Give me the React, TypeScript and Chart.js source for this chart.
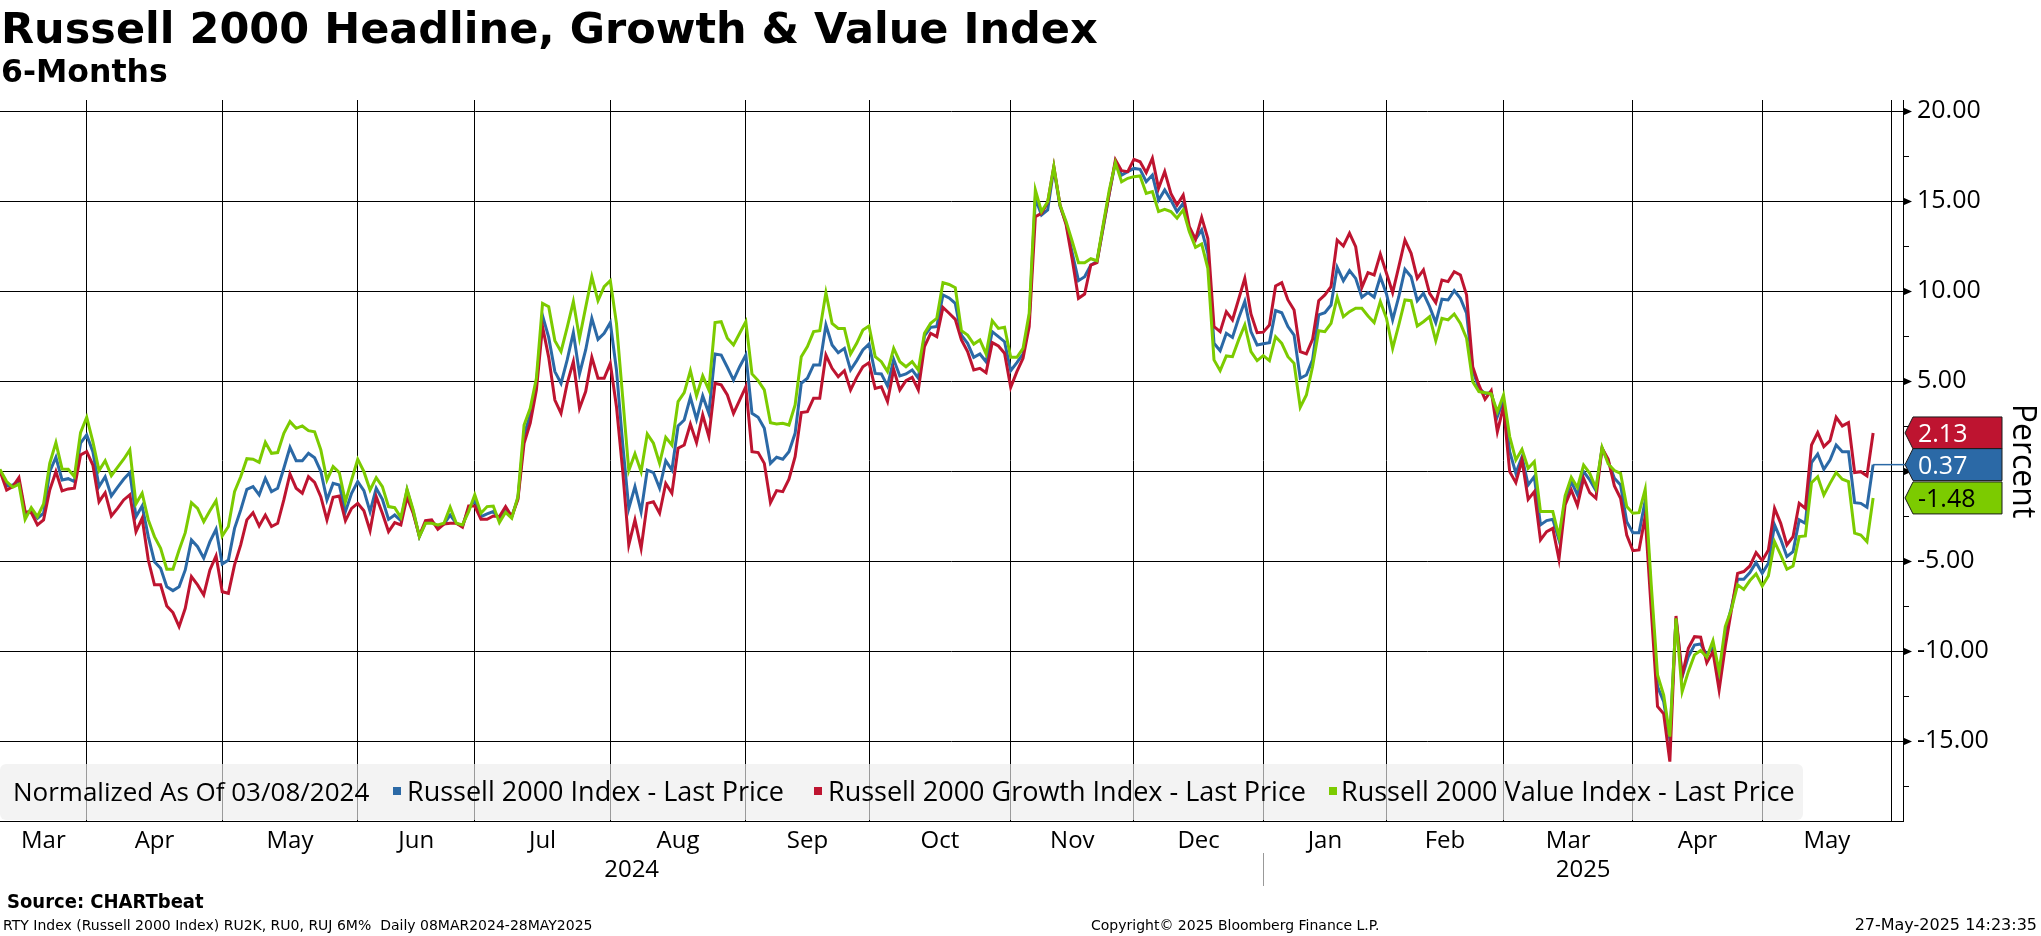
import React, { useEffect, useRef } from 'react';
import { Chart, registerables } from 'chart.js';

Chart.register(...registerables);

// ---------- data ----------
const SERIES_NAMES = [
  'Russell 2000 Index - Last Price',
  'Russell 2000 Growth Index - Last Price',
  'Russell 2000 Value Index - Last Price',
];

// trading-day index of the first trading day of each month (Mar 8 2024 = 0)
const MONTH_STARTS = [15, 37, 59, 78, 100, 122, 142, 165, 185, 206, 226, 245, 266, 287, 308];
const MONTH_LABELS = ['Mar', 'Apr', 'May', 'Jun', 'Jul', 'Aug', 'Sep', 'Oct', 'Nov', 'Dec', 'Jan', 'Feb', 'Mar', 'Apr', 'May'];
const YEAR_LABELS = ['2024', '2025'];
const YEAR_BREAK = 206;
const Y_TICKS = [-17.5, -15, -12.5, -10, -7.5, -5, -2.5, 0, 2.5, 5, 7.5, 10, 12.5, 15, 17.5, 20];

// Russell 2000 Index (blue), % change since 03/08/2024, one value per trading day
const RUSSELL_2000 = [
  0, 0.0, -0.81, -0.76, -0.54, -2.37, -2.15, -2.61, -2.33, -0.02,
  0.78, -0.48, -0.41, -0.57, 1.56, 2.02, 1.09, -0.85, -0.3, -1.37,
  -0.89, -0.44, -0.07, -2.52, -1.93, -3.63, -5.02, -5.39, -6.41, -6.63,
  -6.41, -5.48, -3.81, -4.19, -4.83, -3.91, -3.22, -5.15, -4.93, -3.17,
  -2.15, -1.0, -0.85, -1.31, -0.39, -1.13, -0.94, 0.17, 1.33, 0.59,
  0.59, 1.0, 0.75, 0.0, -1.59, -0.67, -0.76, -2.24, -1.22, -0.57,
  -1.07, -2.24, -0.94, -1.56, -2.67, -2.43, -2.74, -1.04, -2.24, -3.63,
  -2.85, -2.8, -3.07, -2.93, -2.43, -2.89, -3.04, -2.06, -1.63, -2.52,
  -2.37, -2.24, -2.61, -2.15, -2.52, -1.5, 2.02, 3.13, 4.89, 8.65,
  7.44, 5.54, 4.89, 6.19, 7.7, 5.41, 6.74, 8.5, 7.33, 7.67,
  8.26, 5.63, 1.56, -2.06, -0.85, -2.24, 0.07, -0.07, -0.94, 0.59,
  0.07, 2.52, 2.85, 4.11, 2.89, 4.19, 3.22, 6.52, 6.46, 5.78,
  5.07, 5.81, 6.46, 3.22, 3.0, 2.39, 0.44, 0.78, 0.67, 1.09,
  2.11, 4.89, 5.17, 5.91, 5.91, 8.13, 7.02, 6.59, 6.83, 5.63,
  6.15, 6.74, 7.07, 5.44, 5.41, 4.74, 6.22, 5.3, 5.41, 5.63,
  5.17, 7.52, 8.0, 8.04, 9.8, 9.63, 9.33, 7.57, 7.11, 6.33,
  6.52, 6.09, 7.76, 7.48, 7.2, 5.59, 6.04, 6.52, 8.41, 15.17,
  14.24, 14.52, 16.83, 14.74, 13.78, 12.11, 10.59, 10.81, 11.46, 11.65,
  13.5, 15.44, 17.2, 16.46, 16.65, 16.83, 16.78, 16.09, 16.46, 15.07,
  15.63, 15.07, 14.43, 14.89, 13.41, 12.89, 13.41, 12.11, 7.11, 6.7,
  7.67, 7.44, 8.5, 9.43, 7.76, 7.02, 7.09, 7.15, 8.93, 8.81,
  8.04, 7.57, 5.17, 5.35, 6.19, 8.69, 8.81, 9.24, 11.33, 10.59,
  11.15, 10.72, 9.67, 9.93, 9.67, 10.81, 9.85, 8.41, 9.7, 11.22,
  10.81, 9.48, 9.89, 9.15, 8.26, 9.56, 9.52, 10.04, 9.61, 8.78,
  5.63, 4.61, 4.33, 4.37, 3.04, 3.96, 1.09, -0.11, 0.81, -0.76,
  -0.3, -2.98, -2.74, -2.67, -3.81, -1.59, -0.57, -1.3, -0.02, -0.48,
  -1.07, 1.28, 0.54, -0.39, -0.76, -2.8, -3.41, -3.41, -1.63, -7.0,
  -11.96, -12.8, -14.9, -8.17, -11.41, -10.3, -9.65, -9.59, -10.2, -9.74,
  -11.59, -8.91, -7.56, -6.0, -6.0, -5.63, -5.07, -5.67, -5.11, -2.98,
  -3.78, -4.74, -4.46, -2.7, -2.89, 0.48, 0.96, 0.11, 0.63, 1.46,
  1.09, 1.09, -1.74, -1.78, -2.0, 0.37,
];

// Russell 2000 Growth Index (red)
const RUSSELL_GROWTH = [
  0, -0.05, -1.04, -0.85, -0.35, -2.24, -2.3, -2.98, -2.7, -1.04,
  -0.02, -1.09, -0.98, -0.94, 0.91, 1.09, 0.35, -1.69, -1.19, -2.48,
  -2.06, -1.59, -1.31, -3.35, -2.61, -4.93, -6.31, -6.31, -7.48, -7.85,
  -8.63, -7.61, -5.85, -6.31, -6.87, -5.48, -4.7, -6.69, -6.78, -5.2,
  -4.09, -2.7, -2.3, -3.04, -2.43, -3.07, -2.89, -1.59, -0.15, -0.94,
  -1.22, -0.3, -0.62, -1.41, -2.7, -1.44, -1.37, -2.74, -2.06, -1.78,
  -2.19, -3.3, -1.41, -2.33, -3.35, -2.85, -2.98, -1.44, -2.33, -3.59,
  -2.74, -2.7, -3.22, -2.93, -2.89, -2.89, -3.11, -1.93, -1.93, -2.67,
  -2.67, -2.48, -2.52, -1.96, -2.52, -1.56, 1.56, 2.67, 4.52, 8.04,
  6.33, 3.96, 3.22, 4.89, 6.09, 3.5, 4.43, 6.33, 5.17, 5.17,
  6.0, 3.59, 0.07, -4.09, -2.7, -4.28, -1.78, -1.69, -2.33, -0.67,
  -1.22, 1.28, 1.46, 2.63, 1.59, 3.13, 1.93, 4.89, 4.8, 4.24,
  3.22, 3.96, 4.7, 1.09, 1.04, 0.44, -1.74, -1.07, -1.13, -0.44,
  0.81, 3.26, 3.31, 4.06, 4.06, 6.46, 5.72, 5.26, 5.59, 4.52,
  5.22, 5.81, 6.04, 4.61, 4.7, 3.87, 5.67, 4.52, 5.04, 5.22,
  4.52, 6.93, 7.67, 7.48, 9.11, 8.78, 8.44, 7.3, 6.65, 5.63,
  5.72, 5.48, 7.15, 6.96, 6.56, 4.67, 5.54, 6.28, 8.04, 14.15,
  14.33, 14.93, 16.93, 14.8, 13.69, 11.74, 9.61, 9.85, 11.46, 11.59,
  13.59, 15.44, 17.3, 16.7, 16.65, 17.33, 17.2, 16.59, 17.39, 15.72,
  16.65, 15.44, 14.8, 15.35, 13.59, 12.89, 14.11, 12.94, 8.04, 7.76,
  8.87, 8.41, 9.56, 10.72, 8.74, 7.7, 7.73, 8.13, 10.3, 10.48,
  9.52, 8.96, 6.65, 6.52, 7.33, 9.48, 9.8, 10.26, 12.85, 12.52,
  13.22, 12.48, 10.22, 11.04, 10.91, 12.07, 11.0, 9.93, 11.37, 12.85,
  12.11, 10.72, 11.19, 9.89, 9.37, 10.63, 10.54, 11.09, 10.91, 9.8,
  5.81, 4.8, 4.0, 4.48, 2.2, 3.59, -0.02, -0.63, 0.63, -1.56,
  -1.13, -3.81, -3.35, -3.17, -4.89, -1.87, -1.04, -1.9, -0.39, -1.19,
  -1.5, 1.28, 0.67, -0.81, -1.5, -3.54, -4.41, -4.37, -2.5, -7.8,
  -13.07, -13.48, -16.13, -8.04, -11.37, -9.83, -9.19, -9.22, -10.63, -10.02,
  -12.15, -9.74, -7.7, -5.67, -5.57, -5.26, -4.52, -4.96, -4.37, -2.06,
  -2.89, -4.09, -3.63, -1.78, -2.06, 1.46, 2.15, 1.37, 1.7, 3.0,
  2.52, 2.7, -0.07, -0.02, -0.26, 2.13,
];

// Russell 2000 Value Index (green)
const RUSSELL_VALUE = [
  0, 0.05, -0.57, -0.89, -0.72, -2.67, -2.02, -2.52, -1.81, 0.44,
  1.59, 0.13, 0.11, -0.3, 2.15, 3.0, 1.65, 0.04, 0.59, -0.24,
  0.22, 0.67, 1.19, -1.81, -1.22, -2.7, -3.63, -4.28, -5.44, -5.44,
  -4.37, -3.41, -1.74, -2.06, -2.8, -2.19, -1.63, -3.59, -3.07, -1.13,
  -0.3, 0.7, 0.67, 0.5, 1.61, 1.0, 1.04, 2.11, 2.76, 2.39,
  2.52, 2.26, 2.2, 1.2, -0.48, 0.26, -0.07, -1.69, -0.48, 0.67,
  -0.02, -1.04, -0.35, -0.85, -1.96, -2.02, -2.57, -1.0, -2.15, -3.63,
  -2.89, -2.89, -2.98, -2.89, -2.0, -2.89, -2.98, -2.24, -1.31, -2.33,
  -1.96, -1.93, -2.85, -2.28, -2.61, -1.41, 2.57, 3.5, 5.17, 9.33,
  9.15, 7.26, 6.65, 8.0, 9.43, 7.39, 9.11, 10.81, 9.48, 10.26,
  10.59, 8.22, 4.15, 0.04, 0.98, -0.02, 2.07, 1.56, 0.44, 1.89,
  1.46, 3.87, 4.37, 5.59, 4.19, 5.3, 4.52, 8.26, 8.31, 7.39,
  7.02, 7.67, 8.31, 5.41, 5.04, 4.52, 2.7, 2.63, 2.67, 2.57,
  3.69, 6.37, 6.93, 7.76, 7.81, 9.93, 8.22, 7.94, 7.94, 6.52,
  7.11, 7.85, 8.07, 6.37, 6.09, 5.54, 6.83, 6.09, 5.81, 6.09,
  5.63, 7.67, 8.22, 8.5, 10.48, 10.38, 10.2, 7.81, 7.57, 7.07,
  7.3, 6.52, 8.37, 7.94, 8.0, 6.33, 6.33, 6.83, 8.78, 15.63,
  14.43, 14.98, 16.93, 14.8, 13.87, 12.76, 11.59, 11.59, 11.81, 11.7,
  13.69, 15.63, 17.15, 16.09, 16.28, 16.37, 16.41, 15.44, 15.54, 14.43,
  14.56, 14.43, 14.06, 14.52, 13.31, 12.44, 12.63, 11.28, 6.19, 5.59,
  6.41, 6.37, 7.3, 8.13, 6.65, 6.15, 6.43, 6.15, 7.48, 7.11,
  6.37, 6.0, 3.56, 4.24, 5.81, 7.81, 7.76, 8.22, 9.67, 8.59,
  8.87, 9.06, 9.06, 8.63, 8.26, 9.43, 8.5, 6.83, 8.13, 9.52,
  9.48, 8.07, 8.31, 8.59, 7.26, 8.5, 8.41, 8.74, 8.22, 7.39,
  4.98, 4.43, 4.37, 4.3, 3.31, 4.24, 1.93, 0.63, 1.22, 0.17,
  0.54, -2.24, -2.24, -2.24, -3.63, -1.37, -0.33, -0.9, 0.35, -0.11,
  -0.94, 1.33, 0.41, 0.04, -0.11, -1.96, -2.33, -2.3, -1.0, -6.4,
  -11.31, -12.43, -14.74, -8.17, -12.24, -11.13, -10.2, -9.96, -10.33, -9.41,
  -11.13, -8.63, -7.67, -6.31, -6.56, -6.07, -5.7, -6.37, -5.81, -3.91,
  -4.65, -5.44, -5.26, -3.63, -3.59, -0.63, -0.3, -1.31, -0.67, -0.07,
  -0.44, -0.57, -3.44, -3.54, -3.91, -1.48,
];

// ---------- style ----------
const BLUE = '#2b69a6';
const RED = '#be1430';
const GREEN = '#7ccb00';
const UI_FONT = '"Open Sans", "Noto Sans", sans-serif';
const HEAD_FONT = '"DejaVu Sans", sans-serif';
const COND_FONT = '"DejaVu Sans Condensed", "DejaVu Sans", sans-serif';

const W = 2041;
const H = 936;
const X_MIN = 0.925;
const X_MAX = 309.85;
const Y_MIN = -19.43;
const Y_MAX = 20.63;

const isMajor = (v: number) => Math.abs(v / 5 - Math.round(v / 5)) < 1e-6;
const toPoints = (arr: number[]) => arr.map((v, i) => ({ x: i, y: v }));

const annotations = {
  id: 'bbgAnnotations',
  afterDatasetsDraw(chart: any) {
    const { ctx, chartArea, scales } = chart;
    const xs = scales.x;
    const ys = scales.y;
    const last = RUSSELL_2000.length - 1;
    const by = ys.getPixelForValue(RUSSELL_2000[last]);
    ctx.save();
    ctx.strokeStyle = BLUE;
    ctx.lineWidth = 1.5;
    ctx.beginPath();
    ctx.moveTo(xs.getPixelForValue(last), by);
    ctx.lineTo(chartArea.right + 2, by);
    ctx.stroke();
    ctx.restore();
  },
  afterDraw(chart: any) {
    const { ctx, chartArea, scales } = chart;
    const xs = scales.x;
    const ys = scales.y;
    const right = chartArea.right;
    ctx.save();

    // right-axis tick marks
    ctx.fillStyle = '#000';
    ctx.strokeStyle = '#000';
    ctx.lineWidth = 1;
    Y_TICKS.forEach((v) => {
      const py = Math.round(ys.getPixelForValue(v)) + 0.5;
      ctx.beginPath();
      if (isMajor(v)) {
        ctx.moveTo(right, py - 4);
        ctx.lineTo(right + 9, py);
        ctx.lineTo(right, py + 4);
        ctx.closePath();
        ctx.fill();
      } else {
        ctx.moveTo(right, py);
        ctx.lineTo(right + 6, py);
        ctx.stroke();
      }
    });

    // month labels
    ctx.font = `24px ${UI_FONT}`;
    ctx.textAlign = 'center';
    ctx.textBaseline = 'alphabetic';
    ctx.fillStyle = '#000';
    MONTH_LABELS.forEach((m, i) => {
      const a = i === 0 ? xs.min : MONTH_STARTS[i - 1];
      const b = MONTH_STARTS[i];
      ctx.fillText(m, (xs.getPixelForValue(a) + xs.getPixelForValue(b)) / 2, 848);
    });

    // year labels + separator
    const yb = xs.getPixelForValue(YEAR_BREAK);
    ctx.fillText(YEAR_LABELS[0], (xs.getPixelForValue(xs.min) + yb) / 2, 877);
    ctx.fillText(YEAR_LABELS[1], (yb + right) / 2, 877);
    ctx.strokeStyle = '#999';
    ctx.beginPath();
    ctx.moveTo(Math.round(yb) + 0.5, 853);
    ctx.lineTo(Math.round(yb) + 0.5, 886);
    ctx.stroke();

    // last-value labels
    const lastVals = [
      { v: RUSSELL_GROWTH[RUSSELL_GROWTH.length - 1], fill: RED, text: '#fff' },
      { v: RUSSELL_2000[RUSSELL_2000.length - 1], fill: BLUE, text: '#fff' },
      { v: RUSSELL_VALUE[RUSSELL_VALUE.length - 1], fill: GREEN, text: '#000' },
    ];
    lastVals.forEach((s) => {
      const cy = ys.getPixelForValue(s.v);
      const top = cy - 16;
      const bot = cy + 16;
      const l = right + 10;
      const r = 2002;
      ctx.beginPath();
      ctx.moveTo(right + 2, cy);
      ctx.lineTo(l, top);
      ctx.lineTo(r, top);
      ctx.lineTo(r, bot);
      ctx.lineTo(l, bot);
      ctx.closePath();
      ctx.fillStyle = s.fill;
      ctx.fill();
      ctx.strokeStyle = '#1a1a1a';
      ctx.lineWidth = 1;
      ctx.stroke();
      ctx.fillStyle = s.text;
      ctx.font = `25px ${UI_FONT}`;
      ctx.textAlign = 'left';
      ctx.textBaseline = 'alphabetic';
      ctx.fillText(s.v.toFixed(2), right + 15, cy + 9.5);
    });

    // axis title
    ctx.translate(2022, 461);
    ctx.rotate(Math.PI / 2);
    ctx.font = `32px ${UI_FONT}`;
    ctx.fillStyle = '#000';
    ctx.textAlign = 'center';
    ctx.textBaseline = 'middle';
    ctx.fillText('Percent', 0, 0);

    ctx.restore();
  },
};

function Text(props: { children: React.ReactNode; style: React.CSSProperties }) {
  return (
    <div style={{ position: 'absolute', whiteSpace: 'nowrap', color: '#000', ...props.style }}>
      {props.children}
    </div>
  );
}

export default function App() {
  const canvasRef = useRef<HTMLCanvasElement | null>(null);

  useEffect(() => {
    const canvas = canvasRef.current;
    if (!canvas) return;
    const chart = new Chart(canvas, {
      type: 'line',
      data: {
        datasets: [
          { label: SERIES_NAMES[0], data: toPoints(RUSSELL_2000), borderColor: BLUE, backgroundColor: BLUE, borderWidth: 3, pointRadius: 0, tension: 0, order: 3 },
          { label: SERIES_NAMES[1], data: toPoints(RUSSELL_GROWTH), borderColor: RED, backgroundColor: RED, borderWidth: 3, pointRadius: 0, tension: 0, order: 2 },
          { label: SERIES_NAMES[2], data: toPoints(RUSSELL_VALUE), borderColor: GREEN, backgroundColor: GREEN, borderWidth: 3, pointRadius: 0, tension: 0, order: 1 },
        ],
      },
      options: {
        responsive: false,
        maintainAspectRatio: false,
        animation: false,
        devicePixelRatio: 1,
        events: [],
        layout: { padding: { top: 100, left: 0, right: 0, bottom: 0 } },
        plugins: {
          legend: { display: false },
          tooltip: { enabled: false },
          title: { display: false },
        },
        scales: {
          x: {
            type: 'linear',
            position: 'bottom',
            min: X_MIN,
            max: X_MAX,
            afterBuildTicks: (s: any) => {
              s.ticks = MONTH_STARTS.map((v) => ({ value: v }));
            },
            afterFit: (s: any) => {
              s.height = H - 821;
            },
            ticks: { display: false },
            grid: { color: '#000', lineWidth: 1, drawTicks: false },
            border: { display: true, color: '#000', width: 1 },
          },
          y: {
            type: 'linear',
            position: 'right',
            min: Y_MIN,
            max: Y_MAX,
            afterBuildTicks: (s: any) => {
              s.ticks = Y_TICKS.map((v) => ({ value: v }));
            },
            afterFit: (s: any) => {
              s.width = W - 1903;
            },
            ticks: {
              autoSkip: false,
              padding: 14,
              color: '#000',
              font: { family: UI_FONT, size: 25 },
              callback: (v: any) => (isMajor(Number(v)) ? Number(v).toFixed(2) : ''),
            },
            grid: {
              color: (c: any) => (c.tick && isMajor(c.tick.value) ? '#000' : 'rgba(0,0,0,0)'),
              lineWidth: 1,
              drawTicks: false,
            },
            border: { display: true, color: '#000', width: 1 },
          },
        },
      } as any,
      plugins: [annotations],
    });
    return () => chart.destroy();
  }, []);

  const legendText: React.CSSProperties = { fontFamily: UI_FONT, fontSize: 26, lineHeight: '26px', top: 14 };
  const seriesText: React.CSSProperties = { fontFamily: UI_FONT, fontSize: 27, lineHeight: '26px', top: 14 };
  const sq = (left: number, color: string): React.CSSProperties => ({
    position: 'absolute', left, top: 23, width: 8, height: 8, background: color,
  });

  return (
    <div style={{ position: 'absolute', left: 0, top: 0, width: W, height: H, background: '#fff', overflow: 'hidden' }}>
      <canvas ref={canvasRef} width={W} height={H} style={{ position: 'absolute', left: 0, top: 0, width: W, height: H }} />

      <Text style={{ left: 1, top: 6.6, fontFamily: HEAD_FONT, fontWeight: 'bold', fontSize: 43, lineHeight: '43px' }}>
        Russell 2000 Headline, Growth &amp; Value Index
      </Text>
      <Text style={{ left: 1, top: 56, fontFamily: HEAD_FONT, fontWeight: 'bold', fontSize: 31.5, lineHeight: '31.5px' }}>
        6-Months
      </Text>

      <div style={{ position: 'absolute', left: 0, top: 764, width: 1803, height: 56, borderRadius: 6, background: 'rgba(236,236,236,0.65)' }}>
        <Text style={{ ...legendText, left: 13 }}>Normalized As Of 03/08/2024</Text>
        <div style={sq(393, BLUE)} />
        <Text style={{ ...seriesText, left: 407 }}>{SERIES_NAMES[0]}</Text>
        <div style={sq(814, RED)} />
        <Text style={{ ...seriesText, left: 828 }}>{SERIES_NAMES[1]}</Text>
        <div style={sq(1329, GREEN)} />
        <Text style={{ ...seriesText, left: 1341 }}>{SERIES_NAMES[2]}</Text>
      </div>

      <Text style={{ left: 7, top: 891, fontFamily: COND_FONT, fontStretch: 'condensed', fontWeight: 'bold', fontSize: 20, lineHeight: '20px' }}>
        Source: CHARTbeat
      </Text>
      <Text style={{ left: 3, top: 918, fontFamily: HEAD_FONT, fontSize: 14, lineHeight: '14px' }}>
        RTY Index (Russell 2000 Index) RU2K, RU0, RUJ 6M%&nbsp;&nbsp;Daily 08MAR2024-28MAY2025
      </Text>
      <Text style={{ left: 1091, top: 918, fontFamily: HEAD_FONT, fontSize: 14, lineHeight: '14px' }}>
        Copyright© 2025 Bloomberg Finance L.P.
      </Text>
      <Text style={{ right: 4, top: 916.5, fontFamily: HEAD_FONT, fontSize: 16, lineHeight: '16px' }}>
        27-May-2025 14:23:35
      </Text>
    </div>
  );
}
